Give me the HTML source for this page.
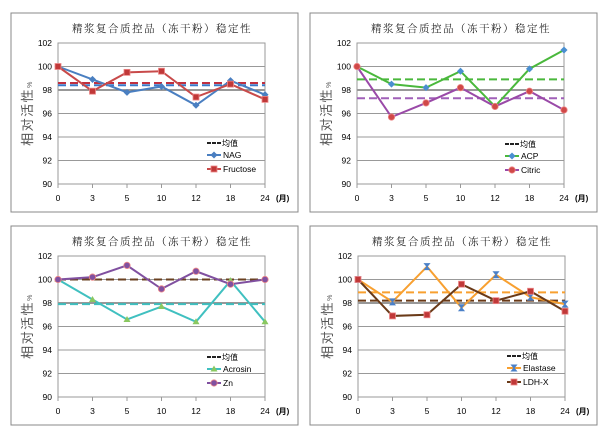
<!DOCTYPE html>
<html><head><meta charset="utf-8"><style>
body{margin:0;background:#fff;width:605px;height:436px;overflow:hidden}
svg{display:block}
text{font-family:"Liberation Sans","Noto Sans CJK SC",sans-serif}
</style></head><body>
<svg id="s" width="605" height="436" xmlns="http://www.w3.org/2000/svg"></svg>
<script>
var s=document.getElementById('s'),h='';
var cats=[0,3,5,10,12,18,24];
function panel(bx,by,px,py,series,means,leg){
 var x0=px,x1=px+207,yt=py,yb=py+141,dx=(x1-x0)/6;
 function Y(v){return yt+(102-v)*(yb-yt)/12;}
 h+='<rect x="'+bx+'" y="'+by+'" width="287" height="199" fill="#fff" stroke="#888" stroke-width="1"/>';
 h+='<text x="'+(x0+104)+'" y="'+(by+19)+'" font-size="10.5" text-anchor="middle" style="font-family:\'Noto Serif CJK SC\',serif;font-weight:300" letter-spacing="1.5">精浆复合质控品（冻干粉）稳定性</text>';
 for(var v=90;v<=102;v+=2){var y=Y(v);
  if(v>90&&v<102)h+='<line x1="'+x0+'" y1="'+y+'" x2="'+x1+'" y2="'+y+'" stroke="'+(v==98?'#777':'#999')+'" stroke-width="'+(v==98?1.5:1)+'"/>';
  h+='<text x="'+(x0-6)+'" y="'+(y+3)+'" font-size="8.5" text-anchor="end">'+v+'</text>';}
 h+='<rect x="'+x0+'" y="'+yt+'" width="'+(x1-x0)+'" height="'+(yb-yt)+'" fill="none" stroke="#999"/>';
 for(var i=0;i<7;i++){var x=x0+i*dx;h+='<line x1="'+x+'" y1="'+yb+'" x2="'+x+'" y2="'+(yb+4)+'" stroke="#999"/><text x="'+x+'" y="'+(yb+17)+'" font-size="8.5" text-anchor="middle">'+cats[i]+'</text>';}
 h+='<text x="'+(x1+11)+'" y="'+(yb+17)+'" font-size="8" font-weight="bold">(月)</text>';
 h+='<text transform="translate('+(x0-26)+','+(yt+70)+') rotate(-90)" font-size="13" fill="#555" letter-spacing="1.5" text-anchor="middle">相对活性<tspan font-size="7">%</tspan></text>';
 means.forEach(function(m){h+='<line x1="'+x0+'" y1="'+Y(m[0])+'" x2="'+x1+'" y2="'+Y(m[0])+'" stroke="'+m[1]+'" stroke-width="2" stroke-dasharray="8,4"/>';});
 series.forEach(function(se){var p=se.d.map(function(v,i){return (x0+i*dx)+','+Y(v)}).join(' ');
  h+='<polyline points="'+p+'" fill="none" stroke="'+se.c+'" stroke-width="2"/>';
  se.d.forEach(function(v,i){h+=mk(x0+i*dx,Y(v),se);});});
 var lx=leg[0],ly=leg[1];
 h+='<line x1="'+lx+'" y1="'+ly+'" x2="'+(lx+14)+'" y2="'+ly+'" stroke="#222" stroke-width="2" stroke-dasharray="4,1"/><text x="'+(lx+15)+'" y="'+(ly+3)+'" font-size="8">均值</text>';
 series.forEach(function(se,k){var y=ly+12+k*14;h+='<line x1="'+lx+'" y1="'+y+'" x2="'+(lx+14)+'" y2="'+y+'" stroke="'+se.c+'" stroke-width="2"/>'+mk(lx+7,y,se)+'<text x="'+(lx+16)+'" y="'+(y+3)+'" font-size="8.5">'+se.n+'</text>';});
}
function mk(x,y,se){var c=se.mc||se.c;
 if(se.m=='d')return '<rect x="'+(x-2.5)+'" y="'+(y-2.5)+'" width="5" height="5" fill="'+c+'" transform="rotate(45 '+x+' '+y+')"/>';
 if(se.m=='s')return '<rect x="'+(x-3)+'" y="'+(y-3)+'" width="6" height="6" fill="'+c+'" stroke="#e88" stroke-width="0.8"/>';
 if(se.m=='c')return '<circle cx="'+x+'" cy="'+y+'" r="3.2" fill="'+c+'" stroke="#e88" stroke-width="0.8"/>';
 if(se.m=='t')return '<path d="M'+x+','+(y-3.5)+' l3.5,6 h-7z" fill="'+c+'"/>';
 if(se.m=='x')return '<path d="M'+(x-2.5)+','+(y-3)+' h5 l-5,6 h5z" fill="'+c+'" stroke="'+c+'"/>';
 return '';}
panel(11,13,58,43,[{n:'NAG',c:'#4a7fc1',m:'d',d:[100,98.9,97.8,98.3,96.7,98.8,97.6]},{n:'Fructose',c:'#c84a4a',m:'s',mc:'#c03838',d:[100,97.9,99.5,99.6,97.4,98.5,97.2]}],[[98.6,'#c03040'],[98.4,'#3a78c8']],[207,143]);
panel(310,13,357,43,[{n:'ACP',c:'#4ab83c',m:'d',mc:'#4a8fd0',d:[100,98.5,98.2,99.6,96.6,99.8,101.4]},{n:'Citric',c:'#9a4aa8',m:'c',mc:'#d04848',d:[100,95.7,96.9,98.2,96.6,97.9,96.3]}],[[98.9,'#4ab83c'],[97.3,'#a060b8']],[505,144]);
panel(11,226,58,256,[{n:'Acrosin',c:'#40c0c0',m:'t',mc:'#8ac860',d:[100,98.3,96.6,97.7,96.4,99.9,96.4]},{n:'Zn',c:'#8050a0',m:'c',mc:'#8050a0',d:[100,100.2,101.2,99.2,100.7,99.6,100]}],[[100,'#6a4020'],[97.9,'#40c0c0']],[207,357]);
panel(310,226,358,256,[{n:'Elastase',c:'#f8a030',m:'x',mc:'#4a80c8',d:[100,98.1,101.1,97.6,100.4,98.5,97.9]},{n:'LDH-X',c:'#6a3a18',m:'s',mc:'#c03838',d:[100,96.9,97,99.6,98.2,99,97.3]}],[[98.9,'#f8a030'],[98.2,'#6a3a18']],[507,356]);
s.innerHTML=h;
</script>
</body></html>
